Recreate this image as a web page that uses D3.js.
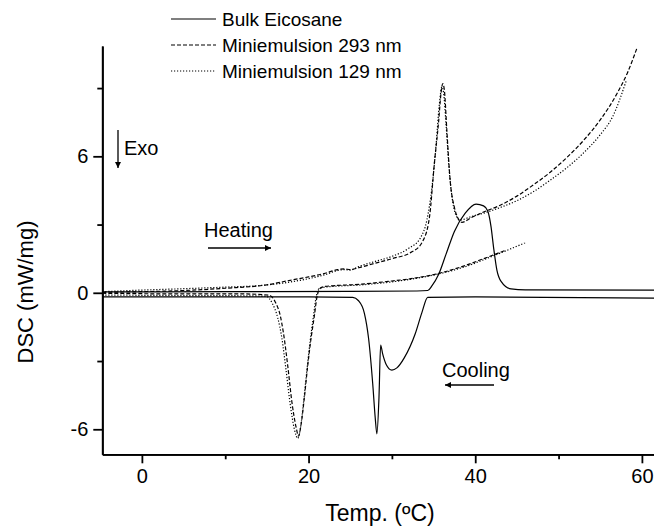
<!DOCTYPE html>
<html>
<head>
<meta charset="utf-8">
<script src="https://cdn.jsdelivr.net/npm/d3@7"></script>
<style>
  body { margin: 0; background: #fff; }
  text { font-family: "Liberation Sans", Arial, sans-serif; fill: #000; }
</style>
</head>
<body>
<div id="chart"></div>
<script>
// DSC curves, [temperature degC, DSC mW/mg]
var bulkHeating = [[-4.75,0.04],[10,0.05],[25,0.06],[33,0.08],[34.3,0.1],[34.8,0.3],[35.6,0.8],[36.5,1.7],
  [37.5,2.7],[38.8,3.5],[40.1,3.9],[41.0,3.82],[41.5,3.6],[41.9,2.9],[42.2,2.0],[42.6,1.0],[43.1,0.5],
  [44.3,0.17],[46,0.13],[61.5,0.12]];
var bulkCooling = [[-4.75,-0.18],[20,-0.18],[25.3,-0.2],[26.0,-0.35],[26.7,-0.9],[27.2,-2.0],[27.7,-4.0],
  [28.0,-5.5],[28.2,-6.2],[28.45,-4.6],[28.65,-2.3],[28.9,-2.7],[29.3,-3.14],[30.0,-3.4],[30.6,-3.3],
  [31.5,-2.85],[32.8,-1.8],[33.6,-0.87],[34.3,-0.2],[40,-0.18],[61.5,-0.23]];
var mini293Heating = [[-4.75,0.02],[0,0.05],[5,0.1],[10,0.2],[15,0.35],[17.8,0.55],[20,0.7],[22,0.86],
  [23.5,1.02],[24.3,1.05],[25,1.02],[26,1.1],[28,1.3],[30,1.5],[32.4,1.8],[33.6,2.2],[34.5,3.3],[35.1,5.7],
  [35.6,7.5],[35.9,8.8],[36.1,9.2],[36.3,8.9],[36.6,7.1],[37.0,4.9],[37.5,3.76],[37.9,3.3],[38.4,3.1],
  [39.5,3.3],[41,3.55],[43,3.85],[45,4.25],[47,4.75],[49,5.3],[51,5.95],[53,6.7],[55,7.6],[57,8.75],
  [58.3,9.7],[59.4,10.75]];
var mini129Heating = [[-4.75,0.05],[0,0.12],[5,0.18],[10,0.25],[14.2,0.32],[19,0.55],[22,0.8],[23.5,0.98],
  [24.3,1.02],[25,1.0],[26,1.15],[28,1.38],[30,1.6],[32,1.95],[33.4,2.4],[34.2,3.2],[34.8,4.6],[35.3,6.5],
  [35.7,8.3],[36.0,9.05],[36.2,8.8],[36.5,7.4],[36.9,5.3],[37.3,4.0],[37.7,3.4],[38.2,3.2],[39.5,3.35],
  [41,3.5],[43,3.75],[45,4.05],[47,4.45],[49,4.95],[51,5.5],[53,6.15],[55,6.95],[56.5,7.75],[58.1,9.3]];
var mini293Cooling = [[-4.75,-0.02],[5,-0.05],[12,-0.05],[15.2,-0.1],[16,-0.4],[16.6,-1.0],[17.0,-1.8],
  [17.5,-3.2],[18.0,-4.8],[18.5,-5.9],[18.8,-6.3],[19.1,-5.8],[19.5,-4.6],[19.9,-3.2],[20.3,-2.0],
  [20.7,-1.0],[21.0,-0.2],[21.4,0.2],[22,0.28],[26.4,0.38],[30,0.52],[32.3,0.62],[35,0.8],[38.8,1.2],
  [41,1.5],[43.5,1.85]];
var mini129Cooling = [[-4.75,-0.1],[5,-0.12],[12,-0.13],[14.9,-0.15],[15.7,-0.5],[16.3,-1.1],[16.8,-2.0],
  [17.3,-3.4],[17.8,-4.9],[18.3,-6.0],[18.7,-6.4],[19.0,-6.0],[19.4,-4.8],[19.8,-3.4],[20.2,-2.1],
  [20.6,-1.0],[20.9,-0.2],[21.3,0.2],[22,0.25],[26.4,0.35],[30,0.48],[32.3,0.6],[35,0.78],[38.8,1.15],
  [42,1.6],[46,2.2]];

var legendNames = ["Bulk Eicosane", "Miniemulsion 293 nm", "Miniemulsion 129 nm"];
var xTicks = [0, 20, 40, 60];
var xMinor = [10, 30, 50];
var yTicks = [-6, 0, 6];
var yMinor = [-3, 3, 9];

var svgWidth = 654;
var svgHeight = 529;

var svg = d3.select('#chart')
  .append('svg')
  .attr('width', svgWidth)
  .attr('height', svgHeight);

var xScale = d3.scaleLinear().domain([-4.75, 61.5]).range([102.3, 654.4]);
var yScale = d3.scaleLinear().domain([-7.1, 10.85]).range([454.3, 46]);

// line styles: solid, dashed, dotted
var dashes = [null, "4,2", "1.2,1.8"];

var series = [
  {data: bulkHeating, style: 0}, {data: bulkCooling, style: 0},
  {data: mini293Heating, style: 1}, {data: mini293Cooling, style: 1},
  {data: mini129Heating, style: 2}, {data: mini129Cooling, style: 2}
];

var line = d3.line()
  .x(d => xScale(d[0]))
  .y(d => yScale(d[1]))
  .curve(d3.curveMonotoneX);

svg.selectAll('path.curve')
  .data(series)
  .enter()
  .append('path')
  .attr('class', 'curve')
  .attr('d', d => line(d.data))
  .attr('fill', 'none')
  .attr('stroke', '#000')
  .attr('stroke-width', 1.2)
  .attr('stroke-dasharray', d => dashes[d.style]);

// axes
svg.append('g')
  .attr('transform', `translate(0, ${yScale.range()[0]})`)
  .call(d3.axisBottom(xScale).tickValues(xTicks).tickSize(9).tickSizeOuter(0).tickPadding(6).tickFormat(d => String(d)));
svg.append('g')
  .attr('transform', `translate(0, ${yScale.range()[0]})`)
  .call(d3.axisBottom(xScale).tickValues(xMinor).tickSize(5).tickSizeOuter(0).tickFormat(''));

svg.append('g')
  .attr('transform', `translate(${xScale.range()[0]}, 0)`)
  .call(d3.axisLeft(yScale).tickValues(yTicks).tickSize(9).tickSizeOuter(0).tickPadding(5).tickFormat(d => String(d)));
svg.append('g')
  .attr('transform', `translate(${xScale.range()[0]}, 0)`)
  .call(d3.axisLeft(yScale).tickValues(yMinor).tickSize(5).tickSizeOuter(0).tickFormat(''));

svg.selectAll('.domain, .tick line')
  .attr('stroke', '#000')
  .attr('stroke-width', 1.8);
svg.selectAll('.tick text')
  .style('font-size', '20px')
  .style('font-family', '"Liberation Sans", Arial, sans-serif')
  .attr('fill', '#000');

// axis titles
svg.append('text')
  .attr('x', 380)
  .attr('y', 521)
  .attr('text-anchor', 'middle')
  .style('font-size', '23px')
  .text('Temp. (ºC)');

svg.append('text')
  .attr('transform', 'translate(33, 292) rotate(-90)')
  .attr('text-anchor', 'middle')
  .style('font-size', '22px')
  .text('DSC (mW/mg)');

// legend
var legend = svg.selectAll('g.legend')
  .data(legendNames)
  .enter()
  .append('g')
  .attr('class', 'legend')
  .attr('transform', (d, i) => `translate(171, ${19 + i * 26})`);
legend.append('line')
  .attr('x1', 0).attr('x2', 45)
  .attr('stroke', '#000')
  .attr('stroke-width', 1.2)
  .attr('stroke-dasharray', (d, i) => dashes[i]);
legend.append('text')
  .attr('x', 51)
  .attr('dy', '0.35em')
  .style('font-size', '19px')
  .text(d => d);

// annotations
svg.append('defs').append('marker')
  .attr('id', 'head')
  .attr('viewBox', '0 0 10 10')
  .attr('refX', 10).attr('refY', 5)
  .attr('markerWidth', 10).attr('markerHeight', 6)
  .attr('markerUnits', 'userSpaceOnUse')
  .attr('orient', 'auto')
  .append('path')
  .attr('d', 'M0,0L10,5L0,10z')
  .attr('fill', '#000');

function arrow(x1, y1, x2, y2, w) {
  svg.append('line')
    .attr('x1', x1).attr('y1', y1).attr('x2', x2).attr('y2', y2)
    .attr('stroke', '#000')
    .attr('stroke-width', w)
    .attr('marker-end', 'url(#head)');
}
arrow(118, 130, 118, 168, 1.3);
arrow(208, 248, 271, 248, 1.6);
arrow(494, 385, 445, 385, 1.6);

svg.append('text').attr('x', 124).attr('y', 155).style('font-size', '20px').text('Exo');
svg.append('text').attr('x', 204).attr('y', 237).style('font-size', '20px').text('Heating');
svg.append('text').attr('x', 442).attr('y', 377).style('font-size', '20px').text('Cooling');
</script>
</body>
</html>
